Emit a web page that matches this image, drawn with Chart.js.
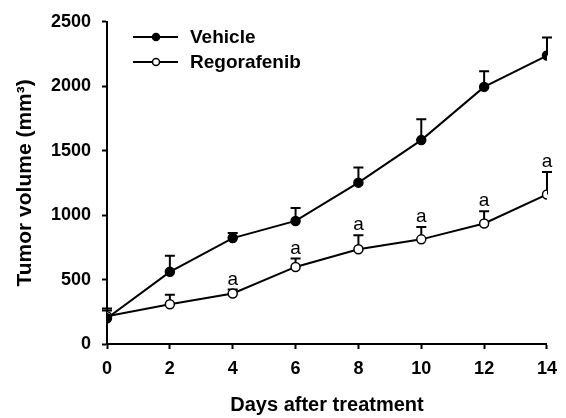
<!DOCTYPE html>
<html>
<head>
<meta charset="utf-8">
<script src="https://cdn.jsdelivr.net/npm/chart.js@4"></script>
<style>
  html, body { margin: 0; padding: 0; background: #fff; }
  #wrap { width: 566px; height: 418px; }
</style>
</head>
<body>
<div id="wrap"><canvas id="tumorChart" width="566" height="418"></canvas></div>
<script>
const days = [0, 2, 4, 6, 8, 10, 12, 14];
const vehicleMean = [200, 560, 822, 955, 1252, 1582, 1995, 2238];
const vehicleErr = [60, 125, 40, 100, 118, 162, 122, 140];
const regoMean = [215, 308, 392, 598, 735, 812, 935, 1160];
const regoErr = [60, 75, 30, 65, 108, 95, 95, 175];
const regoSig = ['', '', 'a', 'a', 'a', 'a', 'a', 'a'];
const yTicks = [0, 500, 1000, 1500, 2000, 2500];

const FONT = 'Liberation Sans, Arial, sans-serif';

function toPoints(means) {
    return days.map((d, i) => ({ x: d, y: means[i] }));
}

// upper error bars (T caps) + significance letters
const errorBarPlugin = {
    id: 'errorBars',
    beforeDatasetsDraw(chart) {
        const ctx = chart.ctx;
        const yScale = chart.scales.y;
        const errs = [vehicleErr, regoErr];
        ctx.save();
        ctx.strokeStyle = '#000';
        ctx.lineWidth = 2;
        chart.data.datasets.forEach((ds, di) => {
            const meta = chart.getDatasetMeta(di);
            meta.data.forEach((pt, i) => {
                const top = yScale.getPixelForValue(ds.data[i].y + errs[di][i]);
                ctx.beginPath();
                ctx.moveTo(pt.x, pt.y);
                ctx.lineTo(pt.x, top);
                ctx.moveTo(pt.x - 5, top);
                ctx.lineTo(pt.x + 5, top);
                ctx.stroke();
            });
        });
        ctx.restore();
    },
    afterDatasetsDraw(chart) {
        const ctx = chart.ctx;
        const yScale = chart.scales.y;
        const meta = chart.getDatasetMeta(1);
        ctx.save();
        ctx.fillStyle = '#000';
        ctx.font = '19px ' + FONT;
        ctx.textAlign = 'center';
        ctx.textBaseline = 'alphabetic';
        meta.data.forEach((pt, i) => {
            if (!regoSig[i]) return;
            const top = yScale.getPixelForValue(regoMean[i] + regoErr[i]);
            ctx.fillText(regoSig[i], pt.x, top - 5);
        });
        ctx.restore();
    }
};

// legend drawn as line + marker like the original figure
const lineLegendPlugin = {
    id: 'lineLegend',
    afterDraw(chart) {
        const ctx = chart.ctx;
        ctx.save();
        chart.data.datasets.forEach((ds, i) => {
            const y = 37 + i * 25;
            ctx.strokeStyle = '#000';
            ctx.lineWidth = 2;
            ctx.beginPath();
            ctx.moveTo(133, y);
            ctx.lineTo(178, y);
            ctx.stroke();
            ctx.beginPath();
            ctx.arc(156, y, 3.5, 0, Math.PI * 2);
            ctx.fillStyle = ds.pointBackgroundColor;
            ctx.fill();
            ctx.lineWidth = 1.5;
            ctx.stroke();
            ctx.fillStyle = '#000';
            ctx.font = 'bold 19px ' + FONT;
            ctx.textAlign = 'left';
            ctx.textBaseline = 'middle';
            ctx.fillText(ds.label, 190, y + 1);
        });
        ctx.restore();
    }
};

const chartData = {
    datasets: [
        {
            label: 'Vehicle',
            data: toPoints(vehicleMean),
            borderColor: '#000',
            borderWidth: 2,
            pointRadius: 4.5,
            pointBackgroundColor: '#000',
            pointBorderColor: '#000',
            pointBorderWidth: 1.5,
            tension: 0
        },
        {
            label: 'Regorafenib',
            data: toPoints(regoMean),
            borderColor: '#000',
            borderWidth: 2,
            pointRadius: 4.5,
            pointBackgroundColor: '#fff',
            pointBorderColor: '#000',
            pointBorderWidth: 1.5,
            tension: 0
        }
    ]
};

const tumorCanvas = document.getElementById('tumorChart').getContext('2d');
const tumorChart = new Chart(tumorCanvas, {
    type: 'line',
    data: chartData,
    plugins: [errorBarPlugin, lineLegendPlugin],
    options: {
        responsive: false,
        animation: false,
        layout: { padding: { top: 20, right: 11, left: 0, bottom: 0 } },
        plugins: {
            legend: { display: false },
            tooltip: { enabled: false }
        },
        scales: {
            x: {
                type: 'linear',
                min: 0,
                max: 14,
                afterFit: function(scale) { scale.height = 74; },
                ticks: {
                    stepSize: 2,
                    color: '#000',
                    padding: 9,
                    font: { family: FONT, size: 18, weight: 'bold' }
                },
                grid: { drawOnChartArea: false, drawTicks: true, tickLength: 5, color: '#000', tickWidth: 2 },
                border: { color: '#000', width: 2 },
                title: {
                    display: true,
                    text: 'Days after treatment',
                    color: '#000',
                    padding: { top: 0, bottom: 1 },
                    font: { family: FONT, size: 20, weight: 'bold' }
                }
            },
            y: {
                min: 0,
                max: 2500,
                afterFit: function(scale) { scale.width = 107; },
                afterBuildTicks: function(scale) {
                    scale.ticks = yTicks.map(v => ({ value: v }));
                },
                ticks: {
                    color: '#000',
                    padding: 11,
                    callback: function(value) { return String(value); },
                    font: { family: FONT, size: 18, weight: 'bold' }
                },
                grid: { drawOnChartArea: false, drawTicks: true, tickLength: 5, color: '#000', tickWidth: 2 },
                border: { color: '#000', width: 2 },
                title: {
                    display: true,
                    text: 'Tumor volume (mm³)',
                    color: '#000',
                    padding: { top: 13, bottom: 0 },
                    font: { family: FONT, size: 21, weight: 'bold' }
                }
            }
        }
    }
});
</script>
</body>
</html>
